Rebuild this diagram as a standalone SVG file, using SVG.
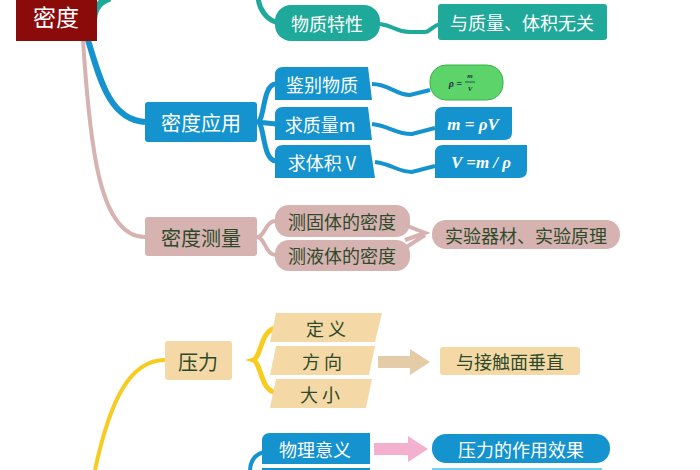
<svg xmlns="http://www.w3.org/2000/svg" width="700" height="470" viewBox="0 0 700 470">
<style>
text{font-family:"Noto Sans CJK SC","Liberation Sans",sans-serif;font-size:18px;text-anchor:middle;dominant-baseline:central}
.w{fill:#fff}.g{fill:#2e4a2a}.f{font-family:"Liberation Serif",serif;font-style:italic;font-weight:bold}
.teal{fill:#1fa99a}.blue{fill:#1493cf}.pink{fill:#d6b2b0}.tan{fill:#f4d9a6}
</style>
<rect width="700" height="470" fill="#fff"/>
<g id="connectors" fill="none">
<path d="M92 30 C95 20 90 5 110 -2" stroke="#1fa99a" stroke-width="7"/>
<path d="M258 -5 C258 10 268 20 276 22" stroke="#1fa99a" stroke-width="5"/>
<path d="M380 24 C395 26 395 32 410 32 L425 32 C430 32 432 26 440 24" stroke="#1fa99a" stroke-width="4"/>
<path d="M88 40 C100 80 110 120 145 122" stroke="#1493cf" stroke-width="6"/>
<path d="M83 40 C90 150 100 237 145 237" stroke="#d6b2b0" stroke-width="4"/>
<path d="M276 84 C262 84 265 122 257 122 C265 122 262 161 276 161 M257 122 L276 124" stroke="#1493cf" stroke-width="5"/>
<path d="M372 84 C390 84 395 95 410 95 L430 90 M372 124 C390 126 395 134 412 134 L435 128 M375 162 C392 164 398 172 412 172 L435 166" stroke="#1493cf" stroke-width="4"/>
<path d="M276 221 C265 221 265 237 257 237 C265 237 265 255 276 255" stroke="#d6b2b0" stroke-width="4"/>
<path d="M405 225 L425 233 L405 240 M405 248 L425 235" stroke="#d6b2b0" stroke-width="4"/>
<path d="M165 360 C130 360 110 400 95 470" stroke="#f5cc1f" stroke-width="4"/>
<path d="M278 328 C260 328 262 357 253 360 C262 363 260 393 278 393" stroke="#f5cc1f" stroke-width="5"/>
<path d="M264 452 C252 455 250 465 250 472" stroke="#1493cf" stroke-width="4"/>
<polygon points="378,356 410,356 410,349 430,362 410,375 410,368 378,368" fill="#e5cca8"/>
<polygon points="374,443 408,443 408,436 428,449 408,462 408,455 374,455" fill="#f4b1cf"/>
</g>
<g id="midu"><rect x="16" y="-4" width="81" height="45" fill="#8b0a0a"/><text x="56" y="16" class="w" style="font-size:23px">密度</text></g>
<g id="top1"><rect x="275" y="-20" width="95" height="20" rx="10" class="teal"/><rect x="440" y="-20" width="85" height="20" class="teal"/></g>
<g id="wuzhi"><rect x="275" y="5" width="105" height="36" rx="16" class="teal"/><text x="327" y="23" class="w">物质特性</text></g>
<g id="wuguan"><rect x="438" y="4" width="169" height="36" rx="3" class="teal"/><text x="522" y="22" class="w">与质量、体积无关</text></g>
<g id="yingyong"><rect x="145" y="102" width="112" height="40" rx="3" class="blue"/><text x="201" y="122" class="w" style="font-size:20px">密度应用</text></g>
<g id="jianbie"><path d="M275 75 Q275 67 283 67 L368 67 L372 100 L275 100Z" class="blue"/><text x="322" y="84" class="w">鉴别物质</text></g>
<g id="zhiliang"><path d="M275 115 Q275 107 283 107 L368 107 L372 140 L275 140Z" class="blue"/><text x="320" y="124" class="w">求质量m</text></g>
<g id="tiji"><path d="M275 153 Q275 145 283 145 L370 145 L375 178 L275 178Z" class="blue"/><text x="322" y="162" class="w">求体积 V</text></g>
<g id="rho"><rect x="430" y="65" width="73" height="35" rx="16" fill="#5dd46a" stroke="#3bb24c"/><text x="462" y="83" class="f" style="font-size:10px;text-anchor:end" fill="#234">ρ =</text><text x="470" y="76" class="f" style="font-size:7px" fill="#234">m</text><line x1="465" y1="82" x2="475" y2="82" stroke="#234" stroke-width="0.8"/><text x="470" y="89" class="f" style="font-size:7px" fill="#234">V</text></g>
<g id="m"><path d="M435 115 Q435 107 443 107 L512 107 L512 132 Q512 140 504 140 L435 140Z" class="blue"/><text x="473" y="124" class="w f" style="font-size:17px">m = ρV</text></g>
<g id="v"><path d="M435 153 Q435 145 443 145 L527 145 L527 170 Q527 178 519 178 L435 178Z" class="blue"/><text x="481" y="162" class="w f" style="font-size:17px">V =m / ρ</text></g>
<g id="celiang"><rect x="145" y="217" width="112" height="39" rx="3" class="pink"/><text x="201" y="237" class="g" style="font-size:20px">密度测量</text></g>
<g id="guti"><rect x="275" y="205" width="135" height="32" rx="14" class="pink"/><text x="342" y="221" class="g">测固体的密度</text></g>
<g id="yeti"><rect x="275" y="240" width="135" height="31" rx="14" class="pink"/><text x="342" y="255" class="g">测液体的密度</text></g>
<g id="shiyan"><rect x="432" y="220" width="188" height="29" rx="14" class="pink"/><text x="526" y="235" class="g">实验器材、实验原理</text></g>
<g id="yali"><rect x="165" y="341" width="67" height="39" rx="3" class="tan"/><text x="198" y="361" class="g" style="font-size:20px">压力</text></g>
<g id="dingyi"><polygon points="276,313 382,313 375,342 270,342" class="tan"/><text x="326" y="328" class="g">定  义</text></g>
<g id="fangxiang"><polygon points="276,346 375,346 369,375 270,375" class="tan"/><text x="322" y="361" class="g">方  向</text></g>
<g id="daxiao"><polygon points="276,379 372,379 366,408 270,408" class="tan"/><text x="320" y="394" class="g">大  小</text></g>
<g id="chuizhi"><rect x="440" y="347" width="140" height="28" rx="3" class="tan"/><text x="510" y="361" class="g">与接触面垂直</text></g>
<g id="yiyi"><path d="M262 441 Q262 433 270 433 L370 433 L370 464 L262 464Z" class="blue"/><text x="315" y="449" class="w">物理意义</text></g>
<g id="xiaoguo"><rect x="432" y="434" width="178" height="29" rx="14" class="blue"/><text x="521" y="449" class="w">压力的作用效果</text></g>
<g id="bottom"><rect x="262" y="468" width="108" height="10" class="blue"/><rect x="432" y="468" width="170" height="10" fill="#6fd3ee"/></g>
</svg>
